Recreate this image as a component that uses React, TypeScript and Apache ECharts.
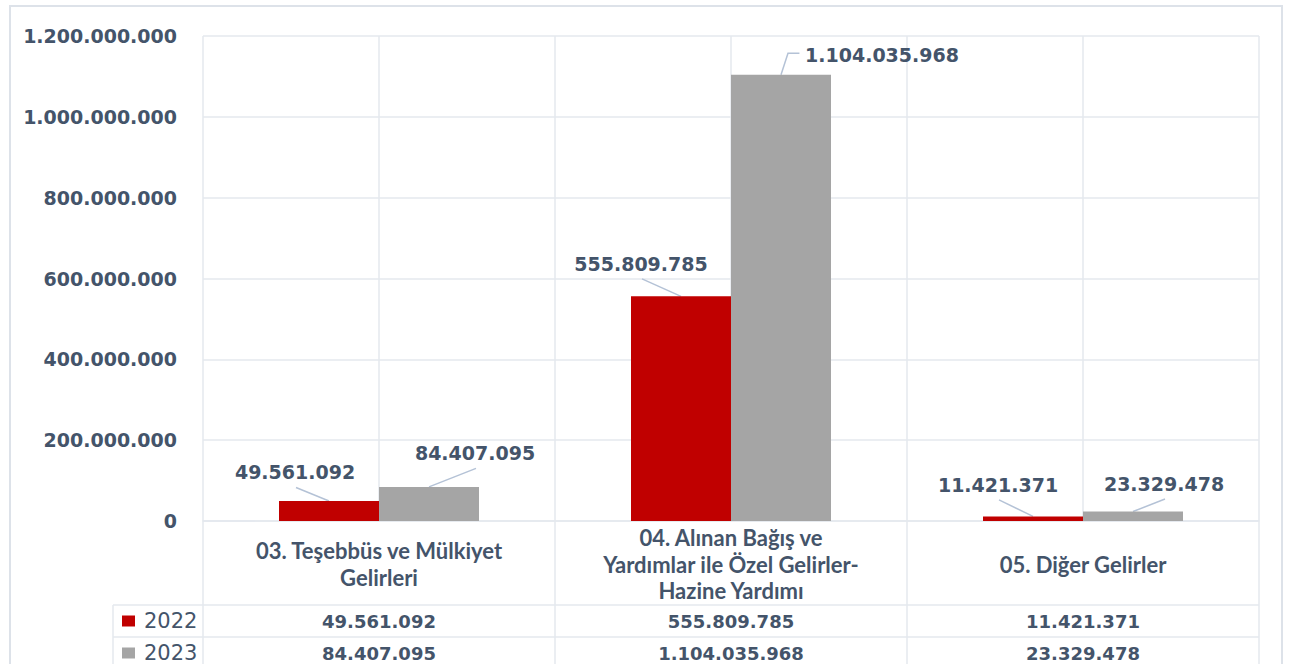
import React, { useEffect, useRef } from "react";
import * as echarts from "echarts";

const categories = [
  "03. Teşebbüs ve Mülkiyet\nGelirleri",
  "04. Alınan Bağış ve\nYardımlar ile Özel Gelirler-\nHazine Yardımı",
  "05. Diğer Gelirler",
];
const seriesNames = ["2022", "2023"];
const values2022 = [49561092, 555809785, 11421371];
const values2023 = [84407095, 1104035968, 23329478];
const yMin = 0;
const yMax = 1200000000;
const yInterval = 200000000;

// styling / layout (not data)
const COLORS = ["#C00000", "#A5A5A5"];
const TEXT = "#44546A";
const GRID_LINE = "#E4E8EE";
const GUIDE = "#B4C2D6";
const LABEL_OFFSETS = [
  [[-34, -12], [-40, -16], [-35, -15]],
  [[46, -17], [101, -3], [31, -11]],
];
const BAR_W = 100;
const LABEL_FS = 19;
const LABEL_DIST = 5;

const fmt = (n: number) => String(n).replace(/\B(?=(\d{3})+(?!\d))/g, ".");

const GRID = { left: 203, top: 36, width: 1056, height: 485 };
const HEADER_H = 84;
const ROW_H = 32;
const KEY_LEFT = 113;

export default function App() {
  const ref = useRef<HTMLDivElement>(null);
  useEffect(() => {
    const chart = echarts.init(ref.current!, null, { renderer: "svg" });
    const allSeries = [values2022, values2023];
    chart.setOption({
      animation: false,
      backgroundColor: "#fff",
      grid: { ...GRID, containLabel: false },
      xAxis: [
        {
          type: "category",
          data: categories,
          axisTick: { show: false },
          axisLine: { show: true, lineStyle: { color: GRID_LINE, width: 1.5 } },
          splitLine: { show: false },
          axisLabel: {
            interval: 0,
            margin: 43,
            verticalAlign: "middle",
            lineHeight: 26.5,
            color: TEXT,
            fontFamily: "Lato",
            fontWeight: "bold",
            fontSize: 22,
          },
        },
        {
          type: "value",
          min: 0,
          max: categories.length,
          interval: 0.5,
          position: "top",
          axisLine: { show: false },
          axisTick: { show: false },
          axisLabel: { show: false },
          splitLine: { show: true, lineStyle: { color: GRID_LINE, width: 1.5 } },
        },
      ],
      yAxis: {
        type: "value",
        min: yMin,
        max: yMax,
        interval: yInterval,
        axisLine: { show: false },
        axisTick: { show: false },
        splitLine: { show: true, lineStyle: { color: GRID_LINE, width: 1.5 } },
        axisLabel: {
          margin: 26,
          color: TEXT,
          fontFamily: "DejaVu Sans",
          fontWeight: "bold",
          fontSize: 19,
          formatter: (v: number) => fmt(v),
        },
      },
      series: allSeries.map((vals, si) => ({
        type: "bar",
        name: seriesNames[si],
        xAxisIndex: 0,
        data: vals,
        barWidth: BAR_W,
        barGap: "0%",
        itemStyle: { color: COLORS[si] },
        label: {
          show: true,
          position: "top",
          distance: LABEL_DIST,
          color: TEXT,
          fontFamily: "DejaVu Sans",
          fontWeight: "bold",
          fontSize: LABEL_FS,
          lineHeight: 23,
          formatter: (p: any) => fmt(p.value),
        },
        labelLayout: (p: any) => ({
          dx: LABEL_OFFSETS[si][p.dataIndex][0],
          dy: LABEL_OFFSETS[si][p.dataIndex][1],
        }),
      })),
    });

    const centers = categories.map((_, i) => chart.convertToPixel({ xAxisIndex: 0 }, i) as number);
    const zeroY = chart.convertToPixel({ yAxisIndex: 0 }, 0) as number;
    const left = GRID.left;
    const right = GRID.left + GRID.width;
    const catW = GRID.width / categories.length;
    const rowTop = zeroY + HEADER_H;
    const bottom = rowTop + ROW_H * seriesNames.length + 20;
    const line = (x1: number, y1: number, x2: number, y2: number) => ({
      type: "line",
      shape: { x1, y1, x2, y2 },
      style: { stroke: GRID_LINE, lineWidth: 1.5 },
      silent: true,
    });
    const elements: any[] = [
      {
        type: "rect",
        shape: { x: 10, y: 6, width: 1272, height: 720 },
        style: { fill: "none", stroke: "#DDE2E9", lineWidth: 2 },
        silent: true,
      },
    ];

    // leader lines from bar top centre to the displaced label
    allSeries.forEach((vals, si) => {
      vals.forEach((v, ci) => {
        const bx = centers[ci] + (si === 0 ? -BAR_W / 2 : BAR_W / 2);
        const by = chart.convertToPixel({ yAxisIndex: 0 }, v) as number;
        const [dx, dy] = LABEL_OFFSETS[si][ci];
        const lx = bx + dx;
        const ly = by - LABEL_DIST - 11.5 + dy;
        let points: number[][];
        if (Math.abs(dy) < 6) {
          const halfW = (fmt(v).length * 0.62 * LABEL_FS) / 2;
          const edge = lx - halfW - 6;
          points = [
            [bx, by],
            [bx + 7, ly - 2],
            [edge, ly - 2],
          ];
        } else {
          points = [
            [bx, by],
            [lx + 1, ly + 15],
          ];
        }
        elements.push({
          type: "polyline",
          shape: { points },
          style: { stroke: GUIDE, lineWidth: 1.5, fill: "none" },
          silent: true,
        });
      });
    });

    elements.push(line(KEY_LEFT, rowTop, KEY_LEFT, bottom));
    for (let i = 0; i <= categories.length; i++) {
      const x = left + i * catW;
      elements.push(line(x, zeroY, x, bottom));
    }
    for (let r = 0; r <= seriesNames.length; r++) {
      const y = rowTop + r * ROW_H;
      elements.push(line(KEY_LEFT, y, right, y));
    }
    seriesNames.forEach((name, si) => {
      const cy = rowTop + (si + 0.5) * ROW_H;
      elements.push({
        type: "rect",
        shape: { x: KEY_LEFT + 9, y: cy - 5.5, width: 13, height: 11 },
        style: { fill: COLORS[si] },
        silent: true,
      });
      elements.push({
        type: "text",
        x: KEY_LEFT + 31,
        y: cy,
        style: {
          text: name,
          fill: TEXT,
          fontFamily: "DejaVu Sans",
          fontSize: 21,
          fontWeight: "normal",
          align: "left",
          verticalAlign: "middle",
          textAlign: "left",
          textVerticalAlign: "middle",
        },
        silent: true,
      });
      allSeries[si].forEach((v, ci) => {
        elements.push({
          type: "text",
          x: centers[ci],
          y: cy,
          style: {
            text: fmt(v),
            fill: TEXT,
            fontFamily: "DejaVu Sans",
            fontSize: 18,
            fontWeight: "bold",
            align: "center",
            verticalAlign: "middle",
            textAlign: "center",
            textVerticalAlign: "middle",
          },
          silent: true,
        });
      });
    });
    chart.setOption({ graphic: { elements } });
    return () => chart.dispose();
  }, []);
  return (
    <div
      ref={ref}
      style={{ position: "absolute", left: 0, top: 0, width: 1297, height: 664, background: "#fff" }}
    />
  );
}
